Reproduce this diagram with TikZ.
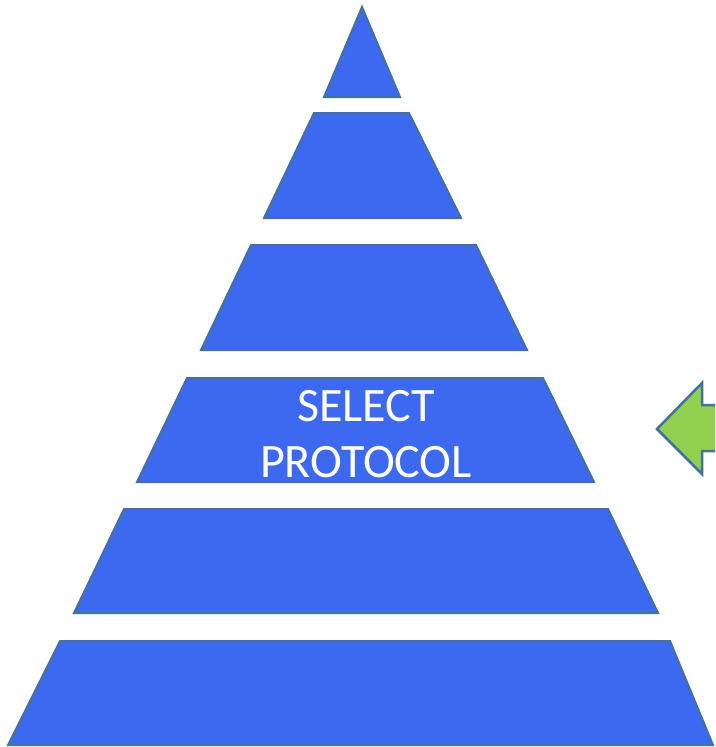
\documentclass[tikz,border=0pt]{standalone}
\usepackage{fontspec}
\setmainfont{Carlito}
\definecolor{tierblue}{RGB}{61,105,240}
\definecolor{edgeblue}{RGB}{65,113,156}
\definecolor{arrowgreen}{RGB}{146,208,80}
\begin{document}
\begin{tikzpicture}[x=1pt,y=-1pt,
  tier/.style={fill=tierblue,draw=edgeblue,line width=2pt},
  pointer/.style={fill=arrowgreen,draw=edgeblue,line width=2.5pt}]
\useasboundingbox (0,0) rectangle (715,747);
\clip (0,0) rectangle (715,747);
% pyramid, top to bottom
\draw [tier] (362,7) -- (400,97) -- (324,97) -- cycle;
\draw [tier] (314,113) -- (409,113) -- (461,218) -- (264,218) -- cycle;
\draw [tier] (251,245) -- (476,245) -- (527,350) -- (201,350) -- cycle;
\draw [tier] (187,378) -- (543,378) -- (594,482) -- (137,482) -- cycle;
\draw [tier] (124,509) -- (608,509) -- (658,613) -- (74,613) -- cycle;
\draw [tier] (60,641) -- (670,641) -- (713,745) -- (8,745) -- cycle;
% label
\node (protocol) at (366,434) [text=white,align=center,font=\fontsize{48}{56}\selectfont] {SELECT\\PROTOCOL};
% arrow at the right
\draw [pointer] (730,405) -- (702,405) -- (702,383) -- (657,429) -- (702,474) -- (702,451) -- (730,451) -- cycle;
\end{tikzpicture}
\end{document}
